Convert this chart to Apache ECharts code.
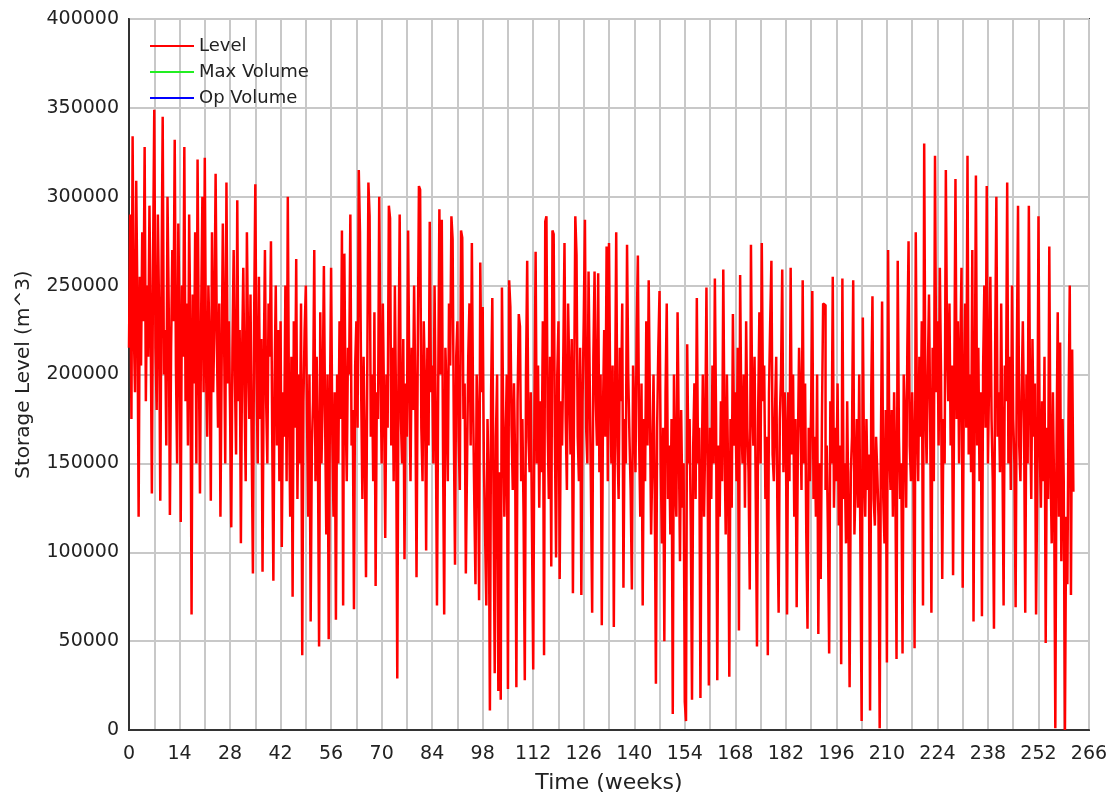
<!DOCTYPE html>
<html>
<head>
<meta charset="utf-8">
<title>Storage Level</title>
<script src="https://cdn.jsdelivr.net/npm/echarts@6/dist/echarts.min.js"></script>
<style>
  html, body { margin: 0; padding: 0; background: #fff; }
  #chart { width: 1116px; height: 800px; }
</style>
</head>
<body>
<div id="chart"></div>
<script>
// storage level, thousands of m^3, three readings per week
// one row = 7 weeks
const levelK = [
  215,290,175, 334,225,190, 309,240,120, 255,205,280, 230,328,185, 250,210,295, 230,133,265,
  349,215,180, 290,235,129, 250,345,200, 225,160,300, 240,121,215, 270,230,332, 205,150,285,
  230,117,250, 210,328,185, 240,160,290, 220,65,245, 195,280,150, 321,215,133, 235,300,190,
  322,205,165, 250,215,129, 280,190,230, 313,220,170, 240,120,205, 285,225,150, 308,195,230,
  180,114,215, 270,200,155, 298,185,225, 105,210,260, 190,140,280, 215,175,245, 160,88,230,
  307,200,150, 255,175,220, 89,205,270, 185,150,240, 210,275,170, 84,195,250, 160,225,140,
  230,103,190, 165,250,140, 300,180,120, 210,75,230, 170,265,130, 200,150,240, 42,185,225,
  250,175,120, 200,61,160, 185,270,140, 210,160,47, 235,150,190, 261,175,110, 200,51,180,
  260,165,120, 190,62,200, 150,230,175, 281,70,268, 185,140,215, 200,290,160, 180,68,205,
  230,170,315, 280,190,130, 210,160,86, 195,308,289, 165,200,140, 235,81,190, 175,300,210,
  150,240,185, 108,200,170, 295,288,160, 215,140,250, 180,29,200, 290,175,150, 220,96,195,
  165,281,200, 140,215,180, 250,190,86, 210,306,304, 170,140,230, 195,101,215, 160,286,190,
  205,150,250, 175,70,190, 293,200,287, 160,65,215, 190,140,240, 205,289,276, 170,93,210,
  230,165,135, 281,277,175, 195,88,150, 210,240,160, 274,185,130, 82,200,170, 73,263,190,
  238,150,110, 70,175,140, 11,190,243, 130,32,165, 200,22,145, 17,249,180, 120,160,200,
  23,253,238, 170,135,195, 150,24,185, 234,227,140, 175,120,28, 200,264,165, 145,190,110,
  34,180,269, 150,205,125, 185,145,230, 42,286,289, 170,130,210, 92,281,279, 165,97,200,
  230,85,185, 160,210,274, 175,135,240, 200,155,220, 77,190,289, 267,165,140, 215,76,185,
  230,287,170, 150,258,195, 135,66,210, 258,185,160, 257,145,200, 59,180,225, 165,272,140,
  274,190,150, 205,58,180, 280,160,130, 215,185,240, 80,175,150, 273,200,165, 135,79,205,
  180,145,225, 267,165,120, 195,70,175, 140,230,160, 253,185,110, 150,200,135, 26,170,215,
  247,150,105, 170,50,190, 240,130,160, 110,175,9, 200,140,120, 235,165,95, 180,125,150,
  16,5,217, 150,175,115, 17,160,195, 130,243,150, 170,18,140, 200,120,165, 249,145,25,
  170,130,205, 150,254,175, 28,160,120, 185,140,259, 165,110,200, 145,30,175, 125,234,160,
  190,140,215, 56,256,175, 150,200,125, 230,170,145, 79,273,185, 160,210,130, 47,180,235,
  150,274,185, 205,130,165, 42,190,230, 264,155,140, 180,210,120, 66,175,200, 259,145,190,
  170,65,190, 140,260,155, 200,120,175, 69,160,215, 185,135,253, 150,195,110, 57,170,140,
  180,247,130, 165,120,200, 54,150,85, 175,240,239, 135,160,110, 43,185,150, 255,125,170,
  140,195,115, 160,37,254, 130,150,105, 185,120,24, 145,165,253, 110,140,175, 125,200,100,
  5,232,150, 120,175,135, 155,11,190, 244,130,115, 165,145,120, 1,160,241, 130,105,180,
  38,270,160, 135,180,120, 190,145,40, 264,165,130, 150,43,200, 175,125,215, 275,160,140,
  190,155,46, 280,175,140, 210,165,230, 70,330,185, 150,200,245, 175,66,215, 140,323,190,
  230,160,260, 200,85,175, 150,315,215, 185,240,160, 205,87,195, 310,175,230, 150,210,260,
  80,195,240, 170,323,155, 200,145,270, 61,185,312, 160,215,140, 190,64,205, 250,170,306,
  150,200,255, 175,140,57, 215,300,165, 190,145,240, 160,70,205, 185,308,150, 210,135,250,
  175,150,69, 210,295,160, 140,190,230, 175,66,200, 150,295,185, 130,220,165, 195,65,140,
  289,160,125, 185,140,210, 49,170,130, 272,150,105, 190,135,1, 160,235,120, 218,95,175,
  140,0,120, 82,180,250, 76,214,134
]
const STEP = 1 / 3 // weeks between readings

// shown in the legend only, no visible trace in the plot
const maxVolume = []
const opVolume = []

const weekTicks = { min: 0, max: 266, interval: 7, labelEvery: 14 }
const levelTicks = { min: 0, max: 400000, interval: 50000 }

const FONT = 'DejaVu Sans'

const chart = echarts.init(document.getElementById('chart'), null, { renderer: 'canvas' })

const option = {
  backgroundColor: '#ffffff',
  animation: false,
  grid: {
    left: 129,
    top: 19,
    right: 27,
    bottom: 70,
    show: true,
    borderColor: '#333',
    borderWidth: 2,
    backgroundColor: 'transparent'
  },
  legend: {
    orient: 'vertical',
    left: 145,
    top: 32,
    icon: 'rect',
    itemWidth: 44,
    itemHeight: 2,
    itemGap: 8,
    textStyle: { fontFamily: FONT, fontSize: 18, lineHeight: 18, color: '#222' },
    data: ['Level', 'Max Volume', 'Op Volume']
  },
  xAxis: {
    type: 'value',
    min: weekTicks.min,
    max: weekTicks.max,
    interval: weekTicks.interval,
    name: 'Time (weeks)',
    nameLocation: 'middle',
    nameGap: 42,
    nameTextStyle: { fontFamily: FONT, fontSize: 22, color: '#222' },
    axisLine: { lineStyle: { color: '#333', width: 2 } },
    axisTick: { show: false },
    axisLabel: {
      fontFamily: FONT,
      fontSize: 19,
      color: '#222',
      margin: 15,
      formatter: v => (v % weekTicks.labelEvery === 0 ? String(v) : '')
    },
    splitLine: { show: true, lineStyle: { color: '#c8c8c8', width: 2 } }
  },
  yAxis: {
    type: 'value',
    min: levelTicks.min,
    max: levelTicks.max,
    interval: levelTicks.interval,
    name: 'Storage Level (m^3)',
    nameLocation: 'middle',
    nameGap: 95,
    nameTextStyle: { fontFamily: FONT, fontSize: 20, color: '#222' },
    axisLine: { show: true, lineStyle: { color: '#333', width: 2 } },
    axisTick: { show: false },
    axisLabel: {
      fontFamily: FONT,
      fontSize: 19,
      color: '#222',
      margin: 10,
      formatter: v => String(v)
    },
    splitLine: { show: true, lineStyle: { color: '#c8c8c8', width: 2 } }
  },
  series: [
    {
      name: 'Level',
      type: 'line',
      symbol: 'none',
      step: 'end',
      data: levelK.map((v, i) => [i * STEP, v * 1000]),
      lineStyle: { color: '#ff0000', width: 2.5 },
      itemStyle: { color: '#ff0000' },
      z: 3
    },
    {
      name: 'Max Volume',
      type: 'line',
      symbol: 'none',
      data: maxVolume,
      lineStyle: { color: '#22ee22', width: 2 },
      itemStyle: { color: '#22ee22' }
    },
    {
      name: 'Op Volume',
      type: 'line',
      symbol: 'none',
      data: opVolume,
      lineStyle: { color: '#0000ff', width: 2 },
      itemStyle: { color: '#0000ff' }
    }
  ]
}

chart.setOption(option)
window.addEventListener('resize', () => chart.resize())
</script>
</body>
</html>
